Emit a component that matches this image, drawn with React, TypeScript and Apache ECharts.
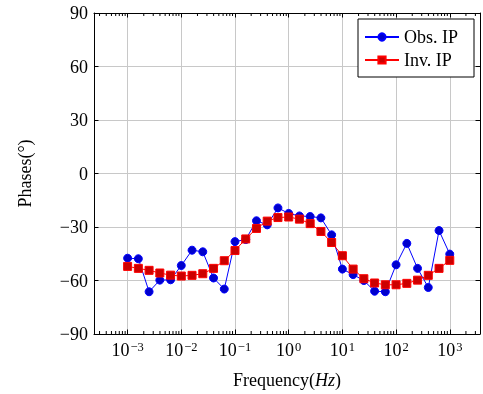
import React, { useEffect, useRef } from "react";
import * as echarts from "echarts";

const frequencies = [
  0.001, 0.001585, 0.002512, 0.003981, 0.00631,
  0.01, 0.01585, 0.02512, 0.03981, 0.0631,
  0.1, 0.1585, 0.2512, 0.3981, 0.631,
  1, 1.585, 2.512, 3.981, 6.31,
  10, 15.85, 25.12, 39.81, 63.1,
  100, 158.5, 251.2, 398.1, 631, 1000,
];

const obsIP = [
  -47.5, -47.8, -66.3, -59.8, -59.6,
  -51.6, -43.0, -43.9, -58.6, -64.8,
  -38.2, -37.0, -26.5, -28.8, -19.3,
  -22.4, -23.8, -24.1, -24.9, -34.4,
  -53.6, -56.7, -60.0, -66.0, -66.3,
  -51.2, -39.2, -53.2, -63.9, -32.0, -45.2,
];

const invIP = [
  -52.1, -53.2, -54.3, -55.8, -57.0,
  -57.5, -57.1, -56.2, -53.2, -48.9,
  -43.2, -36.7, -30.8, -26.7, -24.7,
  -24.4, -25.6, -28.1, -32.5, -38.7,
  -46.1, -53.6, -59.0, -61.4, -62.4,
  -62.4, -61.6, -59.8, -57.1, -53.2, -48.7,
];

const seriesNames = ["Obs. IP", "Inv. IP"];
const yTicks = { min: -90, max: 90, interval: 30 };
const xMin = Math.pow(10, -3.626);
const xMax = Math.pow(10, 3.563);

// minor tick positions (2..9 x 10^n) inside the x range
const minorTicks: number[] = [];
for (let e = -4; e <= 3; e++) {
  for (let k = 2; k <= 9; k++) {
    const v = k * Math.pow(10, e);
    if (v > xMin && v < xMax) minorTicks.push(v);
  }
}

const FONT = "'Liberation Serif', 'Times New Roman', serif";
const FS = 18;

const supMap: Record<string, string> = { "-": "−" };

function xLabel(v: number): string {
  const e = Math.log10(v);
  const r = Math.round(e);
  if (Math.abs(e - r) > 1e-6) return "";
  const s = String(r).split("").map((c) => supMap[c] || c).join("");
  return `{b|10}{s|${s}}`;
}

function yLabel(v: number): string {
  return v < 0 ? "−" + Math.abs(v) : String(v);
}

export default function App() {
  const ref = useRef<HTMLDivElement>(null);
  useEffect(() => {
    if (!ref.current) return;
    const chart = echarts.init(ref.current, undefined, { renderer: "svg" });
    const tickLen = 4.5;
    chart.setOption({
      animation: false,
      textStyle: { fontFamily: FONT },
      grid: { left: 94, top: 13, right: 2, bottom: 59, containLabel: false },
      legend: {
        data: seriesNames,
        orient: "vertical",
        left: 358,
        top: 19,
        padding: [9, 16, 8, 6],
        itemGap: 5,
        itemWidth: 34,
        itemHeight: 9,
        backgroundColor: "#fff",
        borderColor: "#000",
        borderWidth: 1,
        borderRadius: 0,
        textStyle: { fontFamily: FONT, fontSize: FS, color: "#000", lineHeight: 18 },
      },
      xAxis: [
        {
          type: "log",
          logBase: 10,
          min: xMin,
          max: xMax,
          name: "Frequency({i|Hz})",
          nameLocation: "middle",
          nameGap: 37,
          nameTextStyle: {
            fontFamily: FONT,
            fontSize: FS,
            color: "#000",
            rich: { i: { fontFamily: FONT, fontSize: FS, fontStyle: "italic", color: "#000" } },
          },
          axisLine: { show: true, onZero: false, lineStyle: { color: "#000", width: 1 } },
          axisTick: { show: true, inside: true, length: tickLen, lineStyle: { color: "#000" } },
          axisLabel: {
            margin: 6,
            formatter: xLabel,
            color: "#000",
            rich: {
              b: { fontFamily: FONT, fontSize: FS, color: "#000", lineHeight: 20, verticalAlign: "middle" },
              s: { fontFamily: FONT, fontSize: 12.5, color: "#000", lineHeight: 12, verticalAlign: "top", padding: [0, 0, 0, 1] },
            },
          },
          splitLine: { show: true, lineStyle: { color: "#c8c8c8", width: 1 } },
        },
        {
          type: "log",
          logBase: 10,
          min: xMin,
          max: xMax,
          position: "top",
          axisLine: { show: true, onZero: false, lineStyle: { color: "#000", width: 1 } },
          axisTick: { show: true, inside: true, length: tickLen, lineStyle: { color: "#000" } },
          axisLabel: { show: false },
          splitLine: { show: false },
        },
      ],
      yAxis: [
        {
          type: "value",
          min: yTicks.min,
          max: yTicks.max,
          interval: yTicks.interval,
          name: "Phases(°)",
          nameLocation: "middle",
          nameGap: 60,
          nameRotate: 90,
          nameTextStyle: { fontFamily: FONT, fontSize: FS, color: "#000" },
          axisLine: { show: true, onZero: false, lineStyle: { color: "#000", width: 1 } },
          axisTick: { show: true, inside: true, length: tickLen, lineStyle: { color: "#000" } },
          axisLabel: { margin: 6, formatter: yLabel, fontFamily: FONT, fontSize: FS, color: "#000" },
          splitLine: { show: true, lineStyle: { color: "#c8c8c8", width: 1 } },
        },
        {
          type: "value",
          min: yTicks.min,
          max: yTicks.max,
          interval: yTicks.interval,
          position: "right",
          axisLine: { show: true, onZero: false, lineStyle: { color: "#000", width: 1 } },
          axisTick: { show: true, inside: true, length: tickLen, lineStyle: { color: "#000" } },
          axisLabel: { show: false },
          splitLine: { show: false },
        },
      ],
      series: [
        {
          name: "minor",
          type: "custom",
          xAxisIndex: 0,
          yAxisIndex: 0,
          silent: true,
          z: 1,
          data: minorTicks.map((v) => [v, yTicks.min]),
          renderItem: (_params: any, api: any) => {
            const f = api.value(0);
            const b = api.coord([f, yTicks.min]);
            const t = api.coord([f, yTicks.max]);
            const style = { stroke: "#000", lineWidth: 1 };
            return {
              type: "group",
              children: [
                { type: "line", shape: { x1: b[0], y1: b[1], x2: b[0], y2: b[1] - 3 }, style },
                { type: "line", shape: { x1: t[0], y1: t[1], x2: t[0], y2: t[1] + 3 }, style },
              ],
            };
          },
        },
        {
          name: seriesNames[0],
          type: "line",
          data: frequencies.map((f, i) => [f, obsIP[i]]),
          symbol: "circle",
          symbolSize: 8,
          color: "#0000ff",
          lineStyle: { color: "#0000ff", width: 1 },
          itemStyle: { color: "#0000cc", borderColor: "#0000ff", borderWidth: 1 },
          z: 3,
        },
        {
          name: seriesNames[1],
          type: "line",
          data: frequencies.map((f, i) => [f, invIP[i]]),
          symbol: "rect",
          symbolSize: 8,
          color: "#ff0000",
          lineStyle: { color: "#ff0000", width: 1 },
          itemStyle: { color: "#cc0000", borderColor: "#ff0000", borderWidth: 1 },
          z: 4,
        },
      ],
    });
    return () => chart.dispose();
  }, []);
  return (
    <div
      ref={ref}
      style={{ position: "fixed", left: 0, top: 0, width: 483, height: 394 }}
    />
  );
}
